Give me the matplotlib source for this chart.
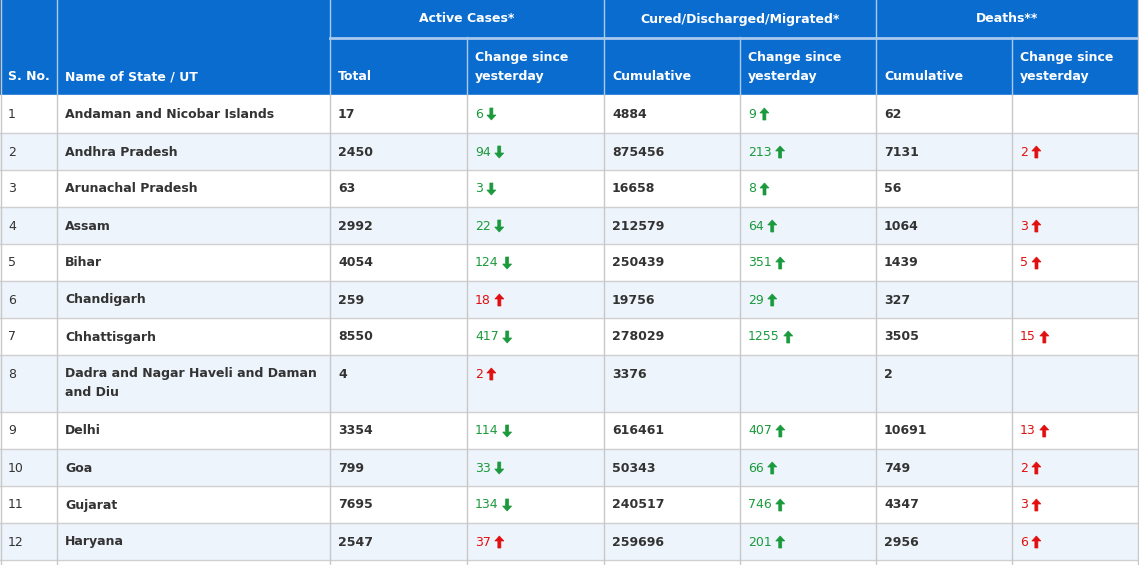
import matplotlib
matplotlib.use("Agg")
import matplotlib.pyplot as plt
from matplotlib.patches import Rectangle, Polygon

sno = [1,2,3,4,5,6,7,8,9,10,11,12]
states = ["Andaman and Nicobar Islands","Andhra Pradesh","Arunachal Pradesh","Assam","Bihar",
          "Chandigarh","Chhattisgarh","Dadra and Nagar Haveli and Daman\nand Diu","Delhi","Goa","Gujarat","Haryana"]
active = [17,2450,63,2992,4054,259,8550,4,3354,799,7695,2547]
active_chg = [-6,-94,-3,-22,-124,18,-417,2,-114,-33,-134,37]
cured = [4884,875456,16658,212579,250439,19756,278029,3376,616461,50343,240517,259696]
cured_chg = [9,213,8,64,351,29,1255,None,407,66,746,201]
deaths = [62,7131,56,1064,1439,327,3505,2,10691,749,4347,2956]
deaths_chg = [None,2,None,3,5,None,15,None,13,2,3,6]

W, H = 1139, 565
fig = plt.figure(figsize=(W/100, H/100), dpi=100)
ax = fig.add_axes([0,0,1,1])
ax.set_xlim(0, W); ax.set_ylim(H, 0); ax.axis("off")

cols = [0,57,330,467,604,740,876,1012,1139]
blue = "#0a6ccf"
ax.add_patch(Rectangle((0,0), W, 95, color=blue, zorder=0))
hfont = dict(color="white", fontsize=9, fontweight="bold", family="DejaVu Sans")
ax.plot([330,W],[37.5,37.5], color="#a9c9ee", lw=2)
for x in cols[1:-1]:
    top = 0 if x in (57,330,604,876) else 37
    ax.plot([x,x],[top,95], color="#a9c9ee", lw=1)
for lab, a, b in [("Active Cases*",330,604),("Cured/Discharged/Migrated*",604,876),("Deaths**",876,1139)]:
    ax.text((a+b)/2, 19, lab, ha="center", va="center", **hfont)
ax.text(8, 77, "S. No.", va="center", **hfont)
ax.text(65, 77, "Name of State / UT", va="center", **hfont)
subs = ["Total","Change since\nyesterday","Cumulative","Change since\nyesterday","Cumulative","Change since\nyesterday"]
for i, s in enumerate(subs):
    if "\n" in s:
        ax.text(cols[i+2]+8, 67, s, va="center", linespacing=1.6, **hfont)
    else:
        ax.text(cols[i+2]+8, 77, s, va="center", **hfont)

heights = [38,37,37,37,37,37,37,57,37,37,37,37]
y = 95
green, red, dark = "#1a9a3c", "#e01010", "#333333"
tfont = dict(fontsize=9, family="DejaVu Sans", va="center")
fig.canvas.draw()
rend = fig.canvas.get_renderer()

def arrow(x, yc, up, c):
    s = -1 if up else 1
    pts = [(x+4.5, yc + s*6), (x, yc + s*1), (x+3, yc + s*1), (x+3, yc - s*6),
           (x+6, yc - s*6), (x+6, yc + s*1), (x+9, yc + s*1)]
    ax.add_patch(Polygon(pts, closed=True, color=c, lw=0.5))

def chg(x, yc, v, up_good):
    if v is None: return
    up = v > 0
    c = green if (up == up_good) else red
    t = ax.text(x, yc, str(abs(v)), color=c, **tfont)
    bb = t.get_window_extent(rend)
    arrow(x + bb.width + 4, yc, up, c)

for i in range(len(sno)):
    h = heights[i]
    ax.add_patch(Rectangle((0,y), W, h, color="#ffffff" if i % 2 == 0 else "#eef4fb", zorder=0))
    yc = y + 19
    ax.text(8, yc, str(sno[i]), color=dark, **tfont)
    ax.text(65, yc if "\n" not in states[i] else y + 28, states[i], color=dark, linespacing=1.7,
            fontweight="semibold", **tfont)
    ax.text(338, yc, str(active[i]), color=dark, fontweight="semibold", **tfont)
    chg(475, yc, active_chg[i], False)
    ax.text(612, yc, str(cured[i]), color=dark, fontweight="semibold", **tfont)
    chg(748, yc, cured_chg[i], True)
    ax.text(884, yc, str(deaths[i]), color=dark, fontweight="semibold", **tfont)
    chg(1020, yc, deaths_chg[i], False)
    y += h
    ax.plot([0,W],[y,y], color="#d0d0d0", lw=1)
ax.add_patch(Rectangle((0,y), W, H-y, color="#ffffff", zorder=0))
for x in cols[1:-1]:
    ax.plot([x,x],[95,H], color="#c8c8c8", lw=1)
ax.plot([0.5,0.5],[0,H], color="#c8c8c8", lw=1)
ax.plot([W-1,W-1],[0,H], color="#c8c8c8", lw=1)
fig.savefig("out.png", dpi=100)
